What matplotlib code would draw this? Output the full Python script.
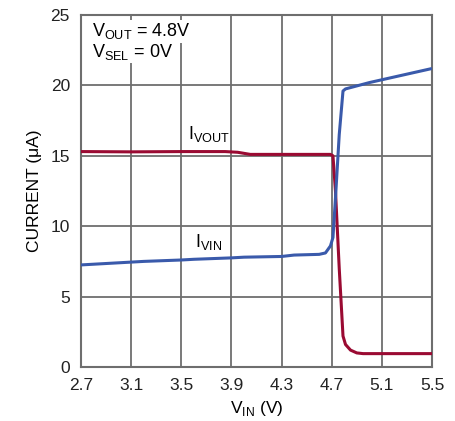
import matplotlib as mpl
mpl.use('Agg')
import matplotlib.pyplot as plt
from matplotlib import font_manager

# font: condensed look if available
names = set(f.name for f in font_manager.fontManager.ttflist)
fam = 'Liberation Sans Narrow' if 'Liberation Sans Narrow' in names else 'Liberation Sans'
plt.rcParams['font.family'] = [fam, 'DejaVu Sans']

# I_VOUT (red)
vout_x = [2.7, 3.1, 3.5, 3.85, 3.95, 4.05, 4.3, 4.6, 4.69, 4.71, 4.73, 4.76, 4.79, 4.81, 4.85, 4.9, 4.95, 5.1, 5.5]
vout_y = [15.3, 15.28, 15.3, 15.3, 15.25, 15.1, 15.1, 15.1, 15.1, 15.0, 12.5, 7.0, 2.2, 1.6, 1.2, 1.0, 0.95, 0.95, 0.95]

# I_IN (blue)
vin_x = [2.7, 2.8, 3.1, 3.2, 3.5, 3.6, 3.9, 4.0, 4.3, 4.4, 4.6, 4.65, 4.69, 4.71, 4.73, 4.76, 4.79, 4.81, 5.0, 5.5]
vin_y = [7.25, 7.3, 7.45, 7.5, 7.6, 7.65, 7.75, 7.8, 7.85, 7.95, 8.0, 8.1, 8.6, 9.2, 12.0, 16.5, 19.6, 19.75, 20.2, 21.2]

xticks = [2.7, 3.1, 3.5, 3.9, 4.3, 4.7, 5.1, 5.5]
yticks = [0, 5, 10, 15, 20, 25]

fig = plt.figure(figsize=(4.55, 4.21), dpi=100)
ax = fig.add_axes([81/455, 1 - 367/421, 351/455, 352/421])

ax.plot(vout_x, vout_y, color='#9a0a32', lw=2.2, solid_capstyle='butt', zorder=3)
ax.plot(vin_x, vin_y, color='#3a5aab', lw=2.2, solid_capstyle='butt', zorder=3)

ax.set_xlim(2.7, 5.5)
ax.set_ylim(0, 25)
ax.set_xticks(xticks)
ax.set_yticks(yticks)
ax.set_xticklabels([str(t) for t in xticks])
ax.grid(True, color='#6e6e6e', lw=1.3)
ax.tick_params(length=0, labelsize=12.5, pad=8, colors='#222222')
for s in ax.spines.values():
    s.set_color('#6e6e6e')
    s.set_linewidth(1.5)

ax.set_xlabel('V$_{\\mathregular{IN}}$ (V)', fontsize=12.5, labelpad=4)
ax.set_ylabel('CURRENT (μA)', fontsize=12.5, labelpad=6)

ax.text(2.79, 23.85, 'V$_{\\mathregular{OUT}}$ = 4.8V', fontsize=13, va='center',
        bbox=dict(facecolor='white', edgecolor='none', pad=1))
ax.text(2.79, 22.4, 'V$_{\\mathregular{SEL}}$ = 0V', fontsize=13, va='center',
        bbox=dict(facecolor='white', edgecolor='none', pad=1))
ax.text(3.55, 16.55, 'I$_{\\mathregular{VOUT}}$', fontsize=13, va='center')
ax.text(3.61, 8.85, 'I$_{\\mathregular{VIN}}$', fontsize=13, va='center')

plt.savefig('out.png', dpi=100)
